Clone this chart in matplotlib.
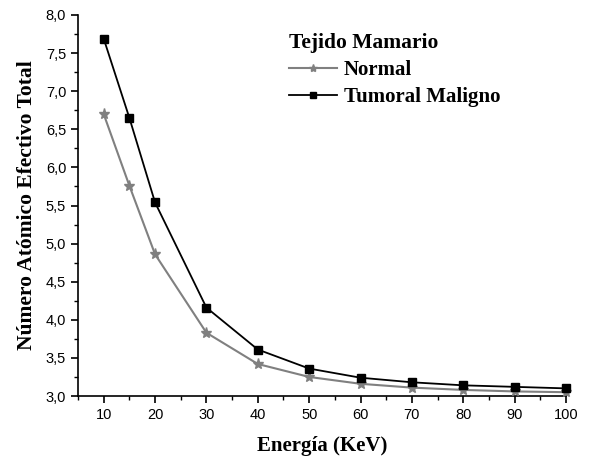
import numpy as np
import matplotlib
matplotlib.use("Agg")
import matplotlib.pyplot as plt
from matplotlib.ticker import MultipleLocator, FuncFormatter

# datos
energia = [10, 15, 20, 30, 40, 50, 60, 70, 80, 90, 100]
z_normal = [6.70, 5.76, 4.86, 3.83, 3.42, 3.25, 3.16, 3.11, 3.08, 3.06, 3.05]
z_tumoral = [7.69, 6.65, 5.54, 4.16, 3.61, 3.36, 3.24, 3.18, 3.14, 3.12, 3.10]

serif = "Liberation Serif"
sans = "Liberation Sans"

fig = plt.figure(figsize=(6.02, 4.57), dpi=100)
ax = fig.add_axes([78/602, 1-396/457, (566-78)/602, (396-15)/457])

ax.plot(energia, z_normal, color="#808080", lw=1.5, marker="*", ms=8,
        label="Normal", clip_on=False, zorder=3)
ax.plot(energia, z_tumoral, color="black", lw=1.3, marker="s", ms=6,
        label="Tumoral Maligno", clip_on=False, zorder=4)

ax.set_xlim(5, 100)
ax.set_ylim(3.0, 8.0)
ax.xaxis.set_major_locator(MultipleLocator(10))
ax.xaxis.set_minor_locator(MultipleLocator(5))
ax.yaxis.set_major_locator(MultipleLocator(0.5))
ax.yaxis.set_minor_locator(MultipleLocator(0.25))
ax.yaxis.set_major_formatter(FuncFormatter(lambda v, p: ("%.1f" % v).replace(".", ",")))
ax.set_xticks([10, 20, 30, 40, 50, 60, 70, 80, 90, 100])

for s in ["top", "right"]:
    ax.spines[s].set_visible(False)
for s in ["left", "bottom"]:
    ax.spines[s].set_linewidth(1.2)

ax.tick_params(which="major", direction="out", length=5, width=1.2, labelsize=10.5)
ax.tick_params(which="minor", direction="out", length=3, width=1.0)
for lab in ax.get_xticklabels() + ax.get_yticklabels():
    lab.set_fontfamily(sans)

ax.set_xlabel("Energía (KeV)", fontsize=15, fontweight="bold", family=serif, labelpad=10)
ax.set_ylabel("Número Atómico Efectivo Total", fontsize=15.5, fontweight="bold", family=serif, labelpad=6)

leg = ax.legend(loc="upper left", bbox_to_anchor=(0.415, 0.975), frameon=False,
                title="Tejido Mamario", handlelength=2.3, handletextpad=0.35,
                labelspacing=0.35, borderaxespad=0, markerscale=0.75,
                prop={"family": serif, "weight": "bold", "size": 15})
leg.get_title().set_fontfamily(serif)
leg.get_title().set_fontweight("bold")
leg.get_title().set_fontsize(15.5)
leg._legend_box.align = "left"

fig.savefig("out.png", dpi=100)
